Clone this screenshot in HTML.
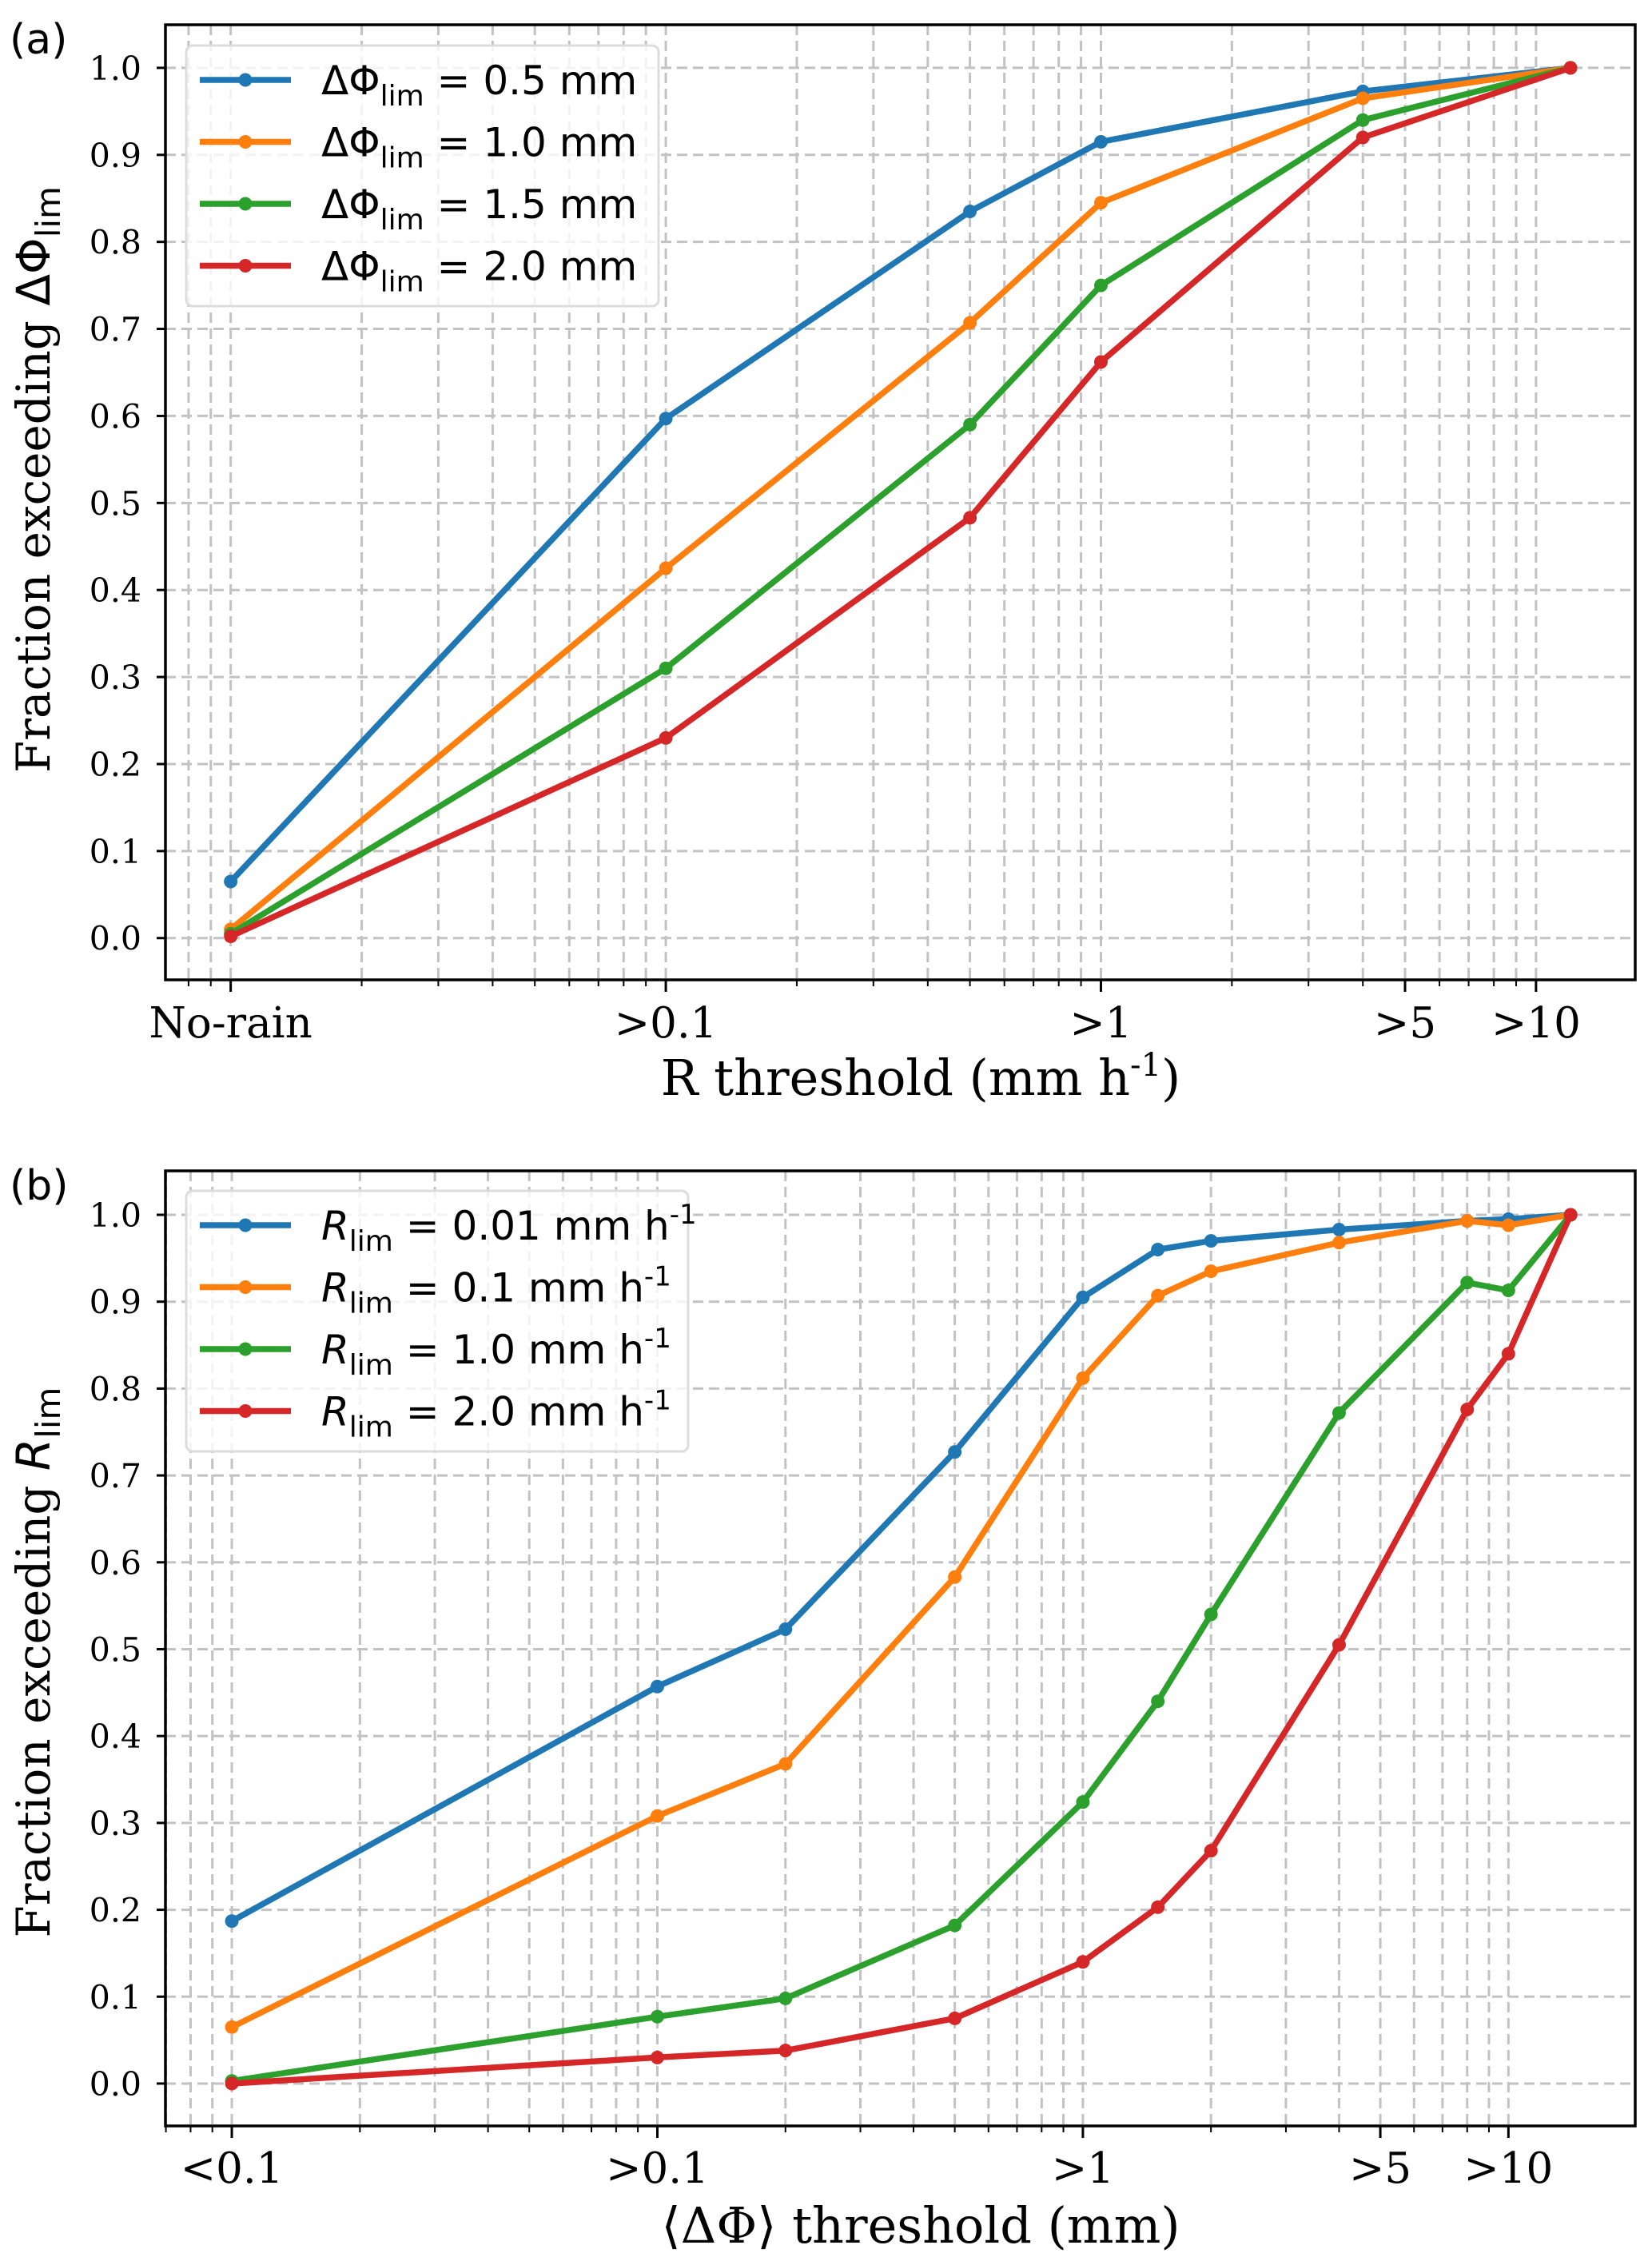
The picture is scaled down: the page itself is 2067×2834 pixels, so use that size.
<!DOCTYPE html>
<html><head><meta charset="utf-8"><title>Fraction exceeding thresholds</title>
<style>
html,body{margin:0;padding:0;background:#fff;}
svg{display:block;}
.tick{font-family:"DejaVu Serif","Liberation Serif",serif;fill:#000;}
.sans{font-family:"DejaVu Sans","Liberation Sans",sans-serif;fill:#000;}
</style></head>
<body>
<svg id="chart" xmlns="http://www.w3.org/2000/svg" width="2067" height="2834" viewBox="0 0 2067 2834">
<rect width="2067" height="2834" fill="#fff"/>
</svg>
<script>
// ---------- Panel (a) data ----------
const aX = [0.01, 0.1, 0.5, 1, 4, 12];
const aBlue = [0.065, 0.597, 0.835, 0.915, 0.973, 1.0];
const aOrange = [0.010, 0.425, 0.707, 0.845, 0.965, 1.0];
const aGreen = [0.005, 0.310, 0.590, 0.750, 0.940, 1.0];
const aRed = [0.002, 0.230, 0.483, 0.662, 0.920, 1.0];
const aTickVals = [0.01, 0.1, 1, 5, 10];
const aTickLabels = ["No-rain", ">0.1", ">1", ">5", ">10"];
const aLegend = ["0.5 mm", "1.0 mm", "1.5 mm", "2.0 mm"];

// ---------- Panel (b) data ----------
const bX = [0.01, 0.1, 0.2, 0.5, 1, 1.5, 2, 4, 8, 10, 14];
const bBlue = [0.187, 0.457, 0.523, 0.727, 0.905, 0.960, 0.970, 0.983, 0.993, 0.995, 1.0];
const bOrange = [0.065, 0.308, 0.368, 0.583, 0.812, 0.907, 0.935, 0.968, 0.993, 0.988, 1.0];
const bGreen = [0.003, 0.077, 0.098, 0.182, 0.324, 0.440, 0.540, 0.772, 0.922, 0.913, 1.0];
const bRed = [0.000, 0.030, 0.038, 0.075, 0.140, 0.203, 0.268, 0.505, 0.776, 0.840, 1.0];
const bTickVals = [0.01, 0.1, 1, 5, 10];
const bTickLabels = ["<0.1", ">0.1", ">1", ">5", ">10"];
const bLegend = ["0.01 mm h", "0.1 mm h", "1.0 mm h", "2.0 mm h"];

const yTicks = [0, 0.1, 0.2, 0.3, 0.4, 0.5, 0.6, 0.7, 0.8, 0.9, 1.0];
const colors = ["#1f77b4", "#ff7f0e", "#2ca02c", "#d62728"];
const NS = "http://www.w3.org/2000/svg";
const svg = document.getElementById("chart");

function mk(tag, attrs, parent) {
  const e = document.createElementNS(NS, tag);
  for (const k in attrs) e.setAttribute(k, attrs[k]);
  (parent || svg).appendChild(e);
  return e;
}

function panel(p) {
  const g = mk("g", {});
  
  
  const xs = v => p.L + (Math.log10(v) - p.xmin) / (p.xmax - p.xmin) * (p.R - p.L);
  const ys = v => p.B - (v - p.ymin) / (p.ymax - p.ymin) * (p.B - p.T);
  const gridG = mk("g", {}, g);
  
  
  const minorVals = [];
  for (let d = -3; d <= 1; d++) for (let k = 1; k <= 9; k++) {
    const v = k * Math.pow(10, d);
    const lv = Math.log10(v);
    if (lv > p.xmin && lv < p.xmax) minorVals.push(v);
  }
  minorVals.forEach(v => {
    const x = xs(v);
    mk("line", {x1: x, x2: x, y1: p.T, y2: p.B, stroke: "#c2c2c2", "stroke-width": 3, "stroke-dasharray": "13,7"}, gridG);
  });
  yTicks.forEach(v => {
    const y = ys(v);
    mk("line", {x1: p.L, x2: p.R, y1: y, y2: y, stroke: "#c2c2c2", "stroke-width": 3, "stroke-dasharray": "13,7"}, gridG);
  });
  p.series.forEach((s, i) => {
    const sg = mk("g", {}, g);
    
    
    const pts = p.x.map((xv, j) => xs(xv).toFixed(1) + "," + ys(s[j]).toFixed(1)).join(" ");
    mk("polyline", {points: pts, fill: "none", stroke: colors[i], "stroke-width": 7.5, "stroke-linejoin": "round"}, sg);
    p.x.forEach((xv, j) => {
      const c = mk("circle", {cx: xs(xv), cy: ys(s[j]), r: 8.5, fill: colors[i]}, sg);
      
      
    });
  });
  const fr = mk("rect", {x: p.L, y: p.T, width: p.R - p.L, height: p.B - p.T, fill: "none", stroke: "#000", "stroke-width": 3.5}, g);
  
  
  minorVals.forEach(v => {
    const x = xs(v);
    mk("line", {x1: x, x2: x, y1: p.B, y2: p.B + 8, stroke: "#000", "stroke-width": 2}, g);
  });
  p.ticks.forEach((v, i) => {
    const x = xs(v);
    mk("line", {x1: x, x2: x, y1: p.B, y2: p.B + 15, stroke: "#000", "stroke-width": 3}, g);
    const t = mk("text", {x: x, y: p.xlabY, "text-anchor": "middle", class: "tick", "font-size": 53}, g);
    t.textContent = p.tickLabels[i];
    
    
  });
  yTicks.forEach(v => {
    const y = ys(v);
    mk("line", {x1: p.L - 11, x2: p.L, y1: y, y2: y, stroke: "#000", "stroke-width": 3}, g);
    const t = mk("text", {x: p.L - 30, y: y + 15, "text-anchor": "end", class: "tick", "font-size": 41}, g);
    t.textContent = v.toFixed(1);
    
    
  });
  const lg = mk("g", {}, g);
  
  
  mk("rect", {x: 233, y: p.legY, width: p.legW, height: 326, rx: 8, fill: "#fff", "fill-opacity": 0.8, stroke: "#dcdcdc", "stroke-width": 3}, lg);
  p.legend.forEach((txt, i) => {
    const cy = p.legY + 43 + i * 77.5;
    const eg = mk("g", {}, lg);
    
    
    mk("line", {x1: 250, x2: 364, y1: cy, y2: cy, stroke: colors[i], "stroke-width": 7.5}, eg);
    mk("circle", {cx: 307, cy: cy, r: 8.5, fill: colors[i]}, eg);
    const t = mk("text", {x: 402, y: cy + 18, class: "sans", "font-size": 50}, eg);
    if (p.key === "a") {
      t.innerHTML = 'ΔΦ<tspan font-size="36" dy="14">lim</tspan><tspan dy="-14"> = ' + txt + '</tspan>';
    } else {
      t.innerHTML = '<tspan font-style="italic">R</tspan><tspan font-size="36" dy="14">lim</tspan><tspan dy="-14"> = ' + txt + '</tspan><tspan font-size="34" dy="-20">-1</tspan>';
    }
  });
  const yl = mk("text", {x: 0, y: 0, transform: "translate(62," + p.ylabC + ") rotate(-90)", "text-anchor": "middle", class: "tick", "font-size": 58}, g);
  yl.innerHTML = p.ylab;
  
  
  const xl = mk("text", {x: 1152, y: p.xtitleY, "text-anchor": "middle", class: "tick", "font-size": 62}, g);
  xl.innerHTML = p.xlab;
  
  
  const pl = mk("text", {x: 12, y: p.T + 36, class: "sans", "font-size": 52}, g);
  pl.textContent = p.panelLabel;
  
  
}

panel({name: "panel-a", key: "a", L: 207, R: 2046, T: 31, B: 1226, xmin: -2.15, xmax: 1.228, ymin: -0.048, ymax: 1.0495,
  x: aX, series: [aBlue, aOrange, aGreen, aRed], ticks: aTickVals, tickLabels: aTickLabels, legend: aLegend,
  legY: 57, legW: 591, xlabY: 1298, xtitleY: 1370, ylabC: 600, panelLabel: "(a)",
  ylab: 'Fraction exceeding <tspan class="sans">ΔΦ</tspan><tspan class="sans" font-size="42" dy="13">lim</tspan>',
  xlab: 'R threshold (mm h<tspan font-size="40" dy="-24">-1</tspan><tspan dy="24">)</tspan>'});

panel({name: "panel-b", key: "b", L: 207, R: 2046, T: 1465, B: 2660, xmin: -2.156, xmax: 1.298, ymin: -0.0488, ymax: 1.0506,
  x: bX, series: [bBlue, bOrange, bGreen, bRed], ticks: bTickVals, tickLabels: bTickLabels, legend: bLegend,
  legY: 1490, legW: 628, xlabY: 2731, xtitleY: 2806, ylabC: 2080, panelLabel: "(b)",
  ylab: 'Fraction exceeding <tspan class="sans" font-style="italic">R</tspan><tspan class="sans" font-size="42" dy="13">lim</tspan>',
  xlab: '⟨ΔΦ⟩ threshold (mm)'});
</script>
</body></html>
